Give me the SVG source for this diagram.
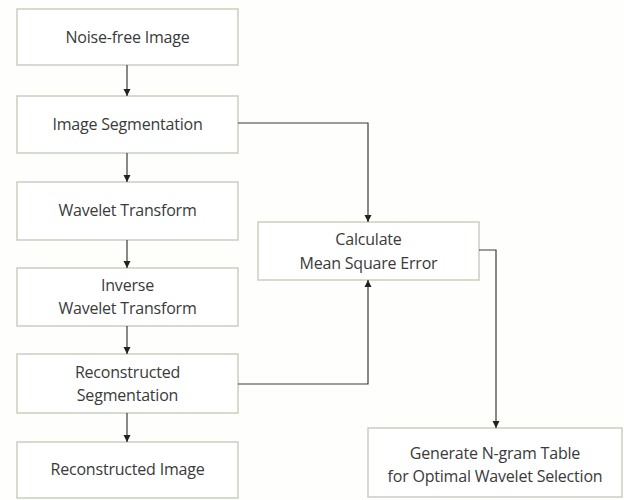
<svg xmlns="http://www.w3.org/2000/svg" width="624" height="500" viewBox="0 0 624 500">
<style>
.box{fill:#ffffff;stroke:#c9cfbf;stroke-width:1.5}
.t{font-family:"Open Sans","Liberation Sans",sans-serif;font-size:16px;fill:#3a3a3a;text-anchor:middle;letter-spacing:-0.2px}
.c{fill:none;stroke:#3a3a3a;stroke-width:1.2}
</style>
<defs>
<marker id="ah" markerWidth="8" markerHeight="8" refX="7" refY="4" orient="auto" markerUnits="userSpaceOnUse">
<path d="M0,0.5 L7,4 L0,7.5 Z" fill="#222"/>
</marker>
</defs>
<rect width="624" height="500" fill="#fefefc"/>
<g id="n1"><rect class="box" x="17" y="9" width="221" height="56"/><text class="t" x="127.5" y="43">Noise-free Image</text></g>
<g id="n2"><rect class="box" x="17" y="96" width="221" height="57"/><text class="t" x="127.5" y="130">Image Segmentation</text></g>
<g id="n3"><rect class="box" x="17" y="182" width="221" height="58"/><text class="t" x="127.5" y="216">Wavelet Transform</text></g>
<g id="n4"><rect class="box" x="17" y="268" width="221" height="58"/><text class="t" x="127.5" y="291">Inverse</text><text class="t" x="127.5" y="314">Wavelet Transform</text></g>
<g id="n5"><rect class="box" x="17" y="354" width="221" height="59"/><text class="t" x="127.5" y="378">Reconstructed</text><text class="t" x="127.5" y="401">Segmentation</text></g>
<g id="n6"><rect class="box" x="17" y="442" width="221" height="56"/><text class="t" x="127.5" y="475">Reconstructed Image</text></g>
<g id="n7"><rect class="box" x="258" y="222" width="221" height="58"/><text class="t" x="368.5" y="245">Calculate</text><text class="t" x="368.5" y="269">Mean Square Error</text></g>
<g id="n8"><rect class="box" x="368" y="428" width="254" height="69"/><text class="t" x="495" y="459">Generate N-gram Table</text><text class="t" x="495" y="482">for Optimal Wavelet Selection</text></g>
<g id="connectors">
<path class="c" d="M127,65 V96" marker-end="url(#ah)"/>
<path class="c" d="M127,153 V182" marker-end="url(#ah)"/>
<path class="c" d="M127,240 V268" marker-end="url(#ah)"/>
<path class="c" d="M127,326 V354" marker-end="url(#ah)"/>
<path class="c" d="M127,413 V442" marker-end="url(#ah)"/>
<path class="c" d="M238,123 H368 V222" marker-end="url(#ah)"/>
<path class="c" d="M238,384 H368 V280" marker-end="url(#ah)"/>
<path class="c" d="M479,250 H496 V428" marker-end="url(#ah)"/>
</g>
</svg>
